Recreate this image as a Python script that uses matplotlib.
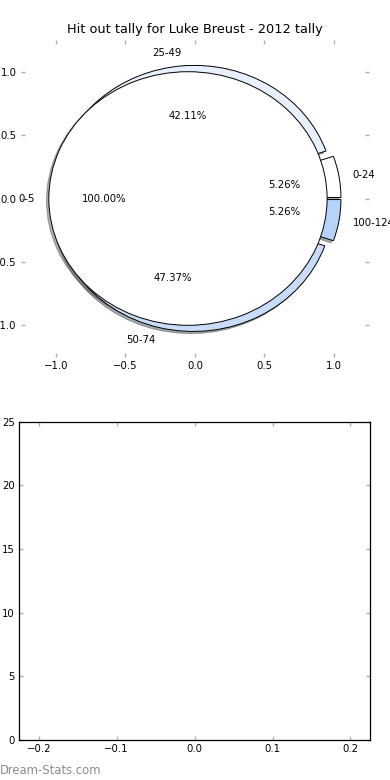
import matplotlib
matplotlib.use('Agg')
import matplotlib.pyplot as plt

# Data
outer_labels = ['0-24', '25-49', '50-74', '100-124']
outer_counts = [1, 8, 9, 1]
outer_colors = ['#ffffff', '#e8f0fd', '#c8dcf8', '#b6d4fa']

inner_labels = ['0-5']
inner_counts = [1]
inner_colors = ['#ffffff']

title = 'Hit out tally for Luke Breust - 2012 tally'

pie_ticks = [-1.0, -0.5, 0.0, 0.5, 1.0]
bottom_xticks = [-0.2, -0.1, 0.0, 0.1, 0.2]
bottom_yticks = [0, 5, 10, 15, 20, 25]

tick_grey = '#b0b0b0'
fs = 7.3
shadow_opts = {'ox': -0.012, 'oy': -0.012, 'alpha': 0.45}

fig = plt.figure(figsize=(3.9, 7.8), dpi=100)

# Top: pie chart (outer ring + inner pie on top)
ax = fig.add_axes([0.0538, 0.5423, 0.892, 0.4064])
ax.pie(outer_counts, labels=outer_labels, colors=outer_colors,
       explode=[0.05] * len(outer_counts), autopct='%1.2f%%', shadow=shadow_opts,
       startangle=0, labeldistance=1.1, pctdistance=0.6,
       wedgeprops={'edgecolor': 'black', 'linewidth': 0.7},
       textprops={'fontsize': fs})
ax.pie(inner_counts, labels=inner_labels, colors=inner_colors,
       explode=[0.05] * len(inner_counts), autopct='%1.2f%%', shadow=shadow_opts,
       startangle=0, labeldistance=1.1, pctdistance=0.6,
       wedgeprops={'edgecolor': 'black', 'linewidth': 0.7},
       textprops={'fontsize': fs})
ax.set_aspect('auto')
ax.set_xlim(-1.25, 1.25)
ax.set_ylim(-1.25, 1.25)
ax.set_frame_on(False)
ax.set_xticks(pie_ticks)
ax.set_yticks(pie_ticks)
ax.tick_params(direction='in', length=3, width=1, color=tick_grey,
               labelsize=fs, pad=3, top=True, right=True)
ax.set_title(title, fontsize=9.3, pad=5)

# Bottom: empty axes
ax2 = fig.add_axes([0.0495, 0.0513, 0.899, 0.4081])
ax2.set_xlim(-0.225, 0.225)
ax2.set_ylim(0, 25)
ax2.set_xticks(bottom_xticks)
ax2.set_yticks(bottom_yticks)
ax2.tick_params(direction='in', length=3, width=1, color=tick_grey,
                labelsize=fs, pad=3, top=True, right=True)
for s in ax2.spines.values():
    s.set_linewidth(0.9)

fig.text(0.0, 0.0128, 'Dream-Stats.com', ha='left', va='center',
         fontsize=8.4, color='#8c8c8c')

fig.savefig('out.png', dpi=100, facecolor='white')
